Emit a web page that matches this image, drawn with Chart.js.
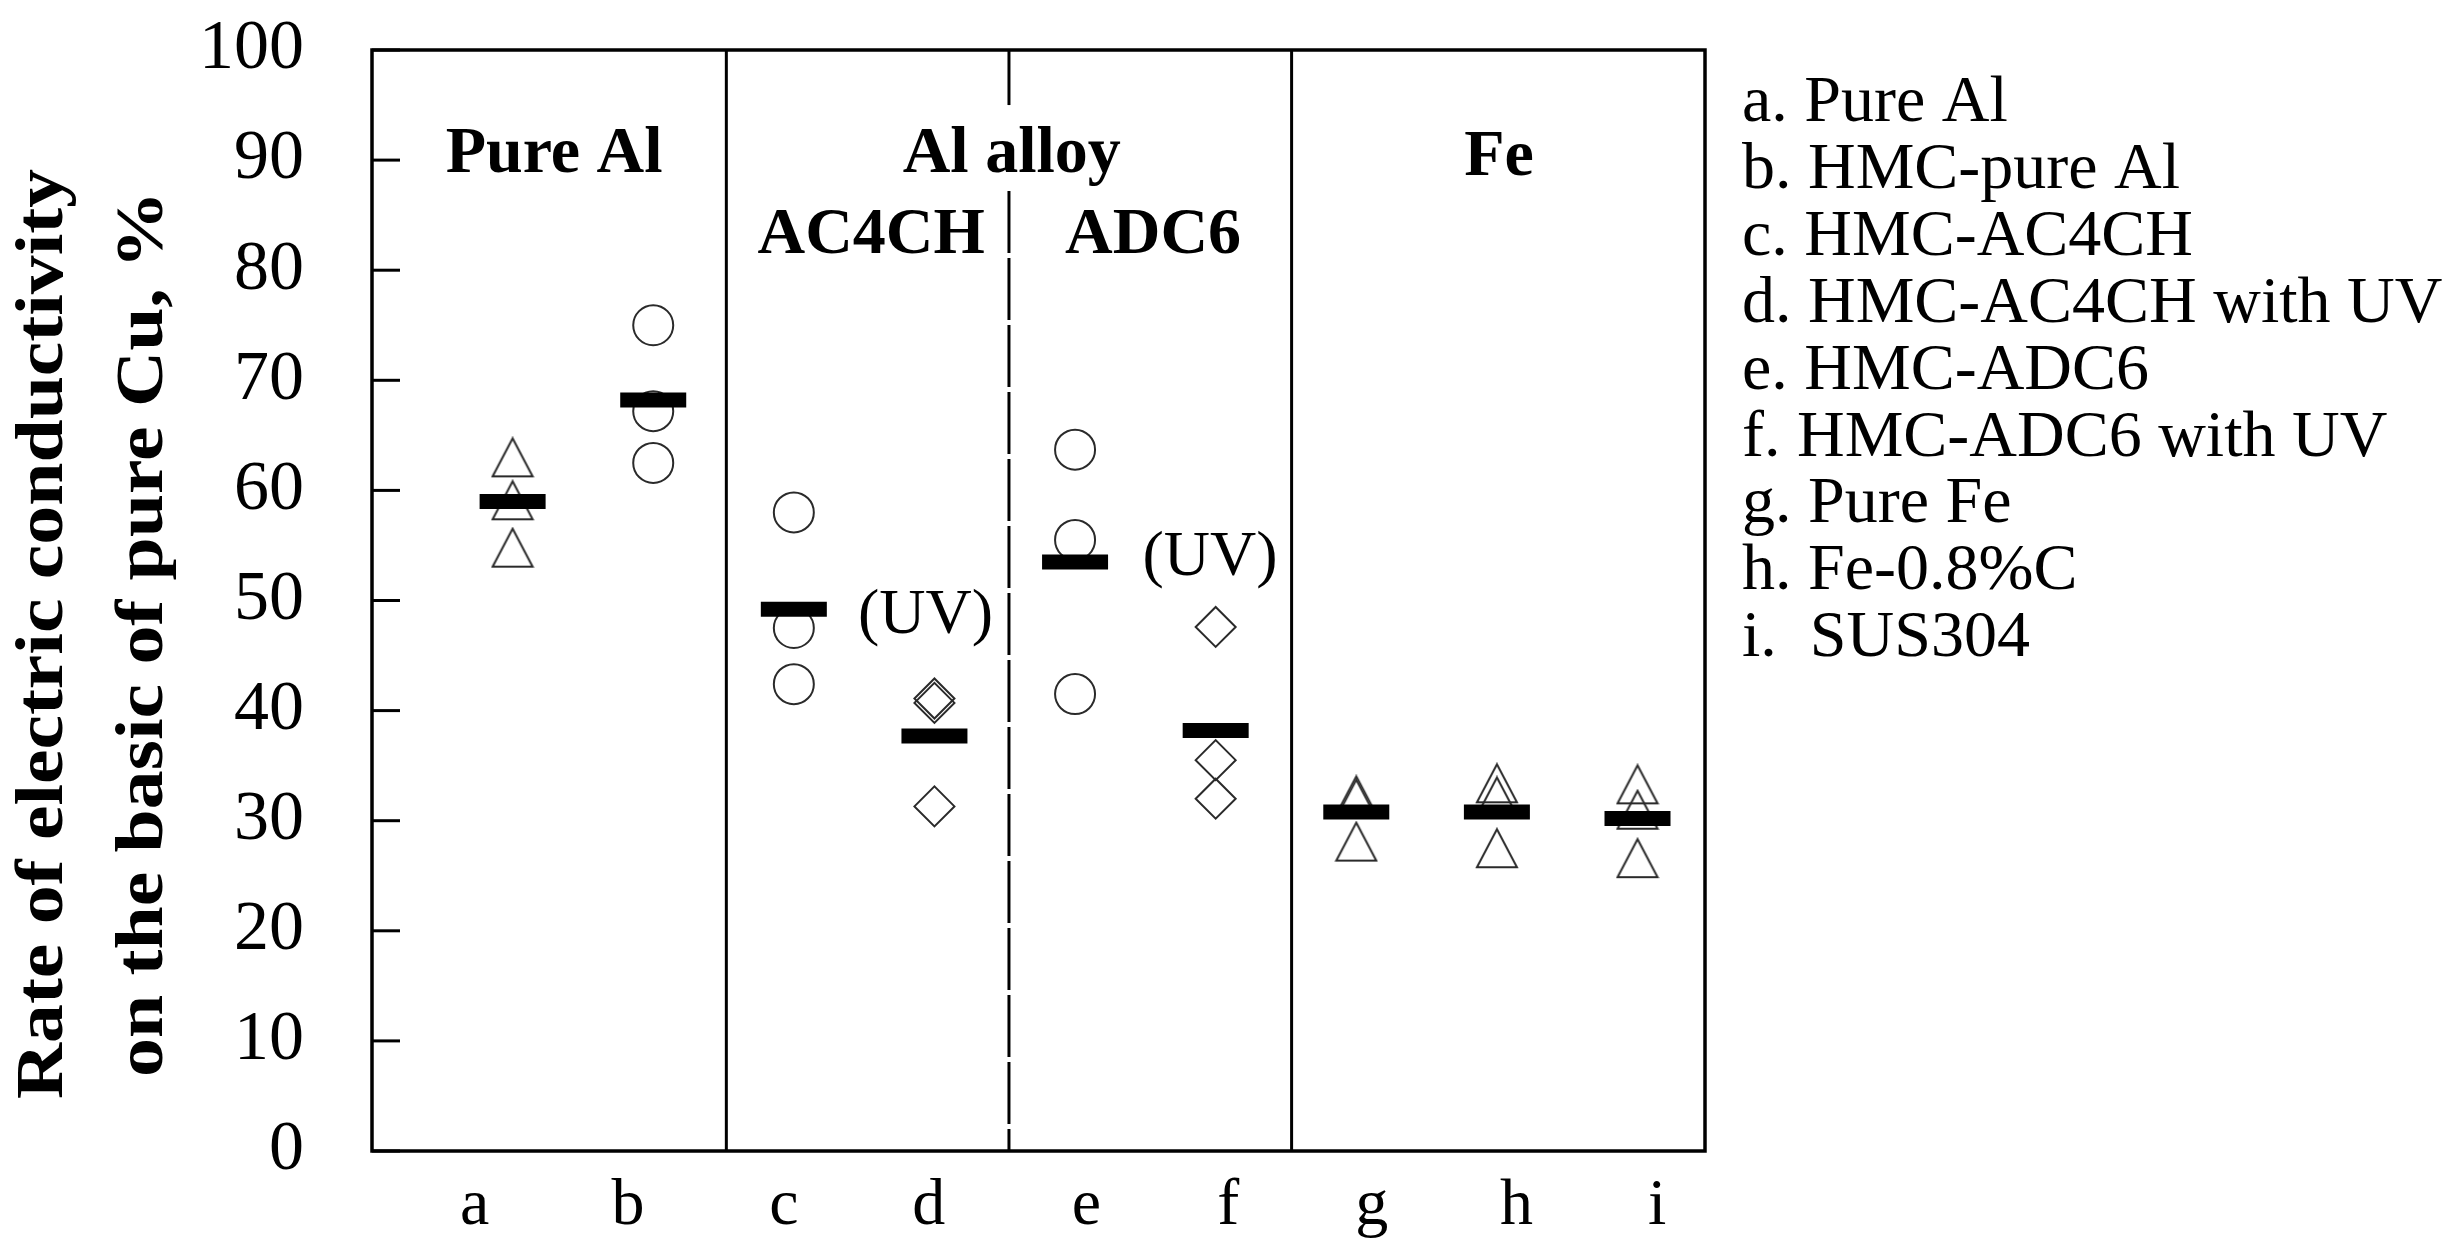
<!DOCTYPE html>
<html><head><meta charset="utf-8">
<script src="https://cdn.jsdelivr.net/npm/chart.js@4.4.1/dist/chart.umd.min.js"></script>
<style>html,body{margin:0;padding:0;background:#fff;overflow:hidden}</style>
</head><body>
<canvas id="c" width="2457" height="1253"></canvas>
<script>
// ---- data ----
const categories = ['a', 'b', 'c', 'd', 'e', 'f', 'g', 'h', 'i'];
const legendLabels = ['a. Pure Al', 'b. HMC-pure Al', 'c. HMC-AC4CH', 'd. HMC-AC4CH with UV',
  'e. HMC-ADC6', 'f. HMC-ADC6 with UV', 'g. Pure Fe', 'h. Fe-0.8%C', 'i.  SUS304'];
const yTicks = [0, 10, 20, 30, 40, 50, 60, 70, 80, 90, 100];
const valuesA = [63.0, 59.1, 54.8];
const valuesB = [75.0, 67.2, 62.5];
const valuesC = [58.0, 47.5, 42.4];
const valuesD = [41.1, 40.7, 31.3];
const valuesE = [63.7, 55.5, 41.5];
const valuesF = [47.6, 35.5, 32.0];
const valuesG = [32.3, 32.0, 28.1];
const valuesH = [33.4, 32.2, 27.5];
const valuesI = [33.3, 31.0, 26.6];
const means = [59.0, 68.2, 49.2, 37.7, 53.5, 38.2, 30.8, 30.8, 30.2];
const triangleCats = ['a', 'g', 'h', 'i'];
const circleCats = ['b', 'c', 'e'];
const diamondCats = ['d', 'f'];
const groupTitles = ['Pure Al', 'Al alloy', 'AC4CH', 'ADC6', 'Fe'];
const uvNote = '(UV)';
const yTitle = ['Rate of electric conductivity', 'on the basic of pure Cu, %'];

// ---- build library tables ----
const valuesByCat = {a: valuesA, b: valuesB, c: valuesC, d: valuesD, e: valuesE, f: valuesF, g: valuesG, h: valuesH, i: valuesI};
function pointsFor(cats) {
  const pts = [];
  cats.forEach(c => valuesByCat[c].forEach(v => pts.push({x: categories.indexOf(c), y: v})));
  return pts;
}
const SERIF = "'Liberation Serif', 'Times New Roman', serif";
const MARK = '#2a2a2a';

function makeTriangle(w, h, lw, color) {
  const c = document.createElement('canvas');
  c.width = w + lw * 2; c.height = h + lw * 2;
  const g = c.getContext('2d');
  g.strokeStyle = color; g.lineWidth = lw; g.lineJoin = 'miter';
  g.beginPath();
  g.moveTo(c.width / 2, lw);
  g.lineTo(c.width - lw, lw + h);
  g.lineTo(lw, lw + h);
  g.closePath(); g.stroke();
  return c;
}
const triImg = makeTriangle(40, 38, 2, MARK);

// x positions (data units) for the letter labels and panel dividers
const labelPos = [-0.27, 0.82, 1.93, 2.96, 4.08, 5.09, 6.11, 7.14, 8.14];
const solidDividers = [1.52, 5.54];
const dashedDivider = 3.53;

const overlay = {
  id: 'overlay',
  afterDraw(chart) {
    const ctx = chart.ctx, xs = chart.scales.x, ys = chart.scales.y, a = chart.chartArea;
    ctx.save();
    ctx.strokeStyle = '#000';
    // frame
    ctx.lineWidth = 3.5;
    ctx.strokeRect(a.left, a.top, a.right - a.left, a.bottom - a.top);
    // inward y ticks
    ctx.lineWidth = 3;
    yTicks.forEach(v => {
      const y = ys.getPixelForValue(v);
      ctx.beginPath(); ctx.moveTo(a.left, y); ctx.lineTo(a.left + 28, y); ctx.stroke();
    });
    // solid dividers
    solidDividers.forEach(v => {
      const x = xs.getPixelForValue(v);
      ctx.beginPath(); ctx.moveTo(x, a.top); ctx.lineTo(x, a.bottom); ctx.stroke();
    });
    // dashed divider with a gap behind "Al alloy"
    const xd = xs.getPixelForValue(dashedDivider);
    ctx.lineWidth = 3;
    ctx.beginPath(); ctx.moveTo(xd, a.top); ctx.lineTo(xd, ys.getPixelForValue(95.0)); ctx.stroke();
    ctx.setLineDash([62, 5]);
    ctx.beginPath(); ctx.moveTo(xd, ys.getPixelForValue(87.2)); ctx.lineTo(xd, a.bottom); ctx.stroke();
    ctx.setLineDash([]);

    // group titles
    ctx.fillStyle = '#000';
    ctx.textBaseline = 'alphabetic';
    ctx.textAlign = 'center';
    ctx.font = 'bold 66px ' + SERIF;
    const gt = [[0.295, 88.9], [3.55, 88.9], [2.55, 81.6], [4.555, 81.6], [7.015, 88.65]];
    groupTitles.forEach((t, i) => ctx.fillText(t, xs.getPixelForValue(gt[i][0]), ys.getPixelForValue(gt[i][1])));
    // (UV) notes
    ctx.font = '64px ' + SERIF;
    ctx.textAlign = 'left';
    ctx.fillText(uvNote, xs.getPixelForValue(2.456), ys.getPixelForValue(47.05));
    ctx.fillText(uvNote, xs.getPixelForValue(4.48), ys.getPixelForValue(52.3));

    // legend text
    ctx.font = '66px ' + SERIF;
    legendLabels.forEach((t, i) => ctx.fillText(t, 1742, 121 + 66.9 * i));

    // y axis title (rotated, two lines)
    ctx.font = 'bold 68px ' + SERIF;
    ctx.textAlign = 'center';
    const w1 = ctx.measureText(yTitle[0]).width;
    const sx = 930 / w1;
    const cy = 634;
    [[62, yTitle[0]], [162, yTitle[1]]].forEach(([bx, t]) => {
      ctx.save();
      ctx.translate(bx, cy);
      ctx.rotate(-Math.PI / 2);
      ctx.scale(sx, 1);
      ctx.fillText(t, 0, 0);
      ctx.restore();
    });
    ctx.restore();
  }
};

function noPad(s) { s.paddingTop = 0; s.paddingBottom = 0; s.paddingLeft = 0; s.paddingRight = 0; }

new Chart(document.getElementById('c').getContext('2d'), {
  type: 'scatter',
  data: {
    datasets: [
      {label: 'mean', data: means.map((v, i) => ({x: i, y: v})), pointStyle: 'line', pointRadius: 33,
        pointBorderWidth: 15, pointBorderColor: '#000', pointBackgroundColor: '#000'},
      {label: 'triangle', data: pointsFor(triangleCats), pointStyle: triImg, pointRadius: 20,
        pointBorderWidth: 0, pointBackgroundColor: 'rgba(0,0,0,0)'},
      {label: 'circle', data: pointsFor(circleCats), pointStyle: 'circle', pointRadius: 20,
        pointBorderWidth: 2, pointBorderColor: MARK, pointBackgroundColor: 'rgba(0,0,0,0)'},
      {label: 'diamond', data: pointsFor(diamondCats), pointStyle: 'rectRot', pointRadius: 20,
        pointBorderWidth: 2, pointBorderColor: MARK, pointBackgroundColor: 'rgba(0,0,0,0)'}
    ]
  },
  options: {
    responsive: false, animation: false, devicePixelRatio: 1,
    layout: {padding: {left: 0, right: 752, top: 50, bottom: 0}},
    plugins: {legend: {display: false}, tooltip: {enabled: false}},
    scales: {
      x: {
        type: 'linear', min: -1, max: 8.48,
        grid: {display: false, drawTicks: false}, border: {display: false},
        afterBuildTicks: s => { s.ticks = labelPos.map(v => ({value: v})); },
        afterFit: s => { s.height = 102; noPad(s); },
        ticks: {autoSkip: false, maxRotation: 0, minRotation: 0, padding: 16, color: '#000',
          font: {family: SERIF, size: 66}, callback: (v, i) => categories[i]}
      },
      y: {
        min: 0, max: 100,
        grid: {display: false, drawTicks: false}, border: {display: false},
        afterBuildTicks: s => { s.ticks = yTicks.map(v => ({value: v})); },
        afterFit: s => { s.width = 372; noPad(s); },
        ticks: {padding: 68, color: '#000', font: {family: SERIF, size: 70}}
      }
    }
  },
  plugins: [overlay]
});
</script>
</body></html>
